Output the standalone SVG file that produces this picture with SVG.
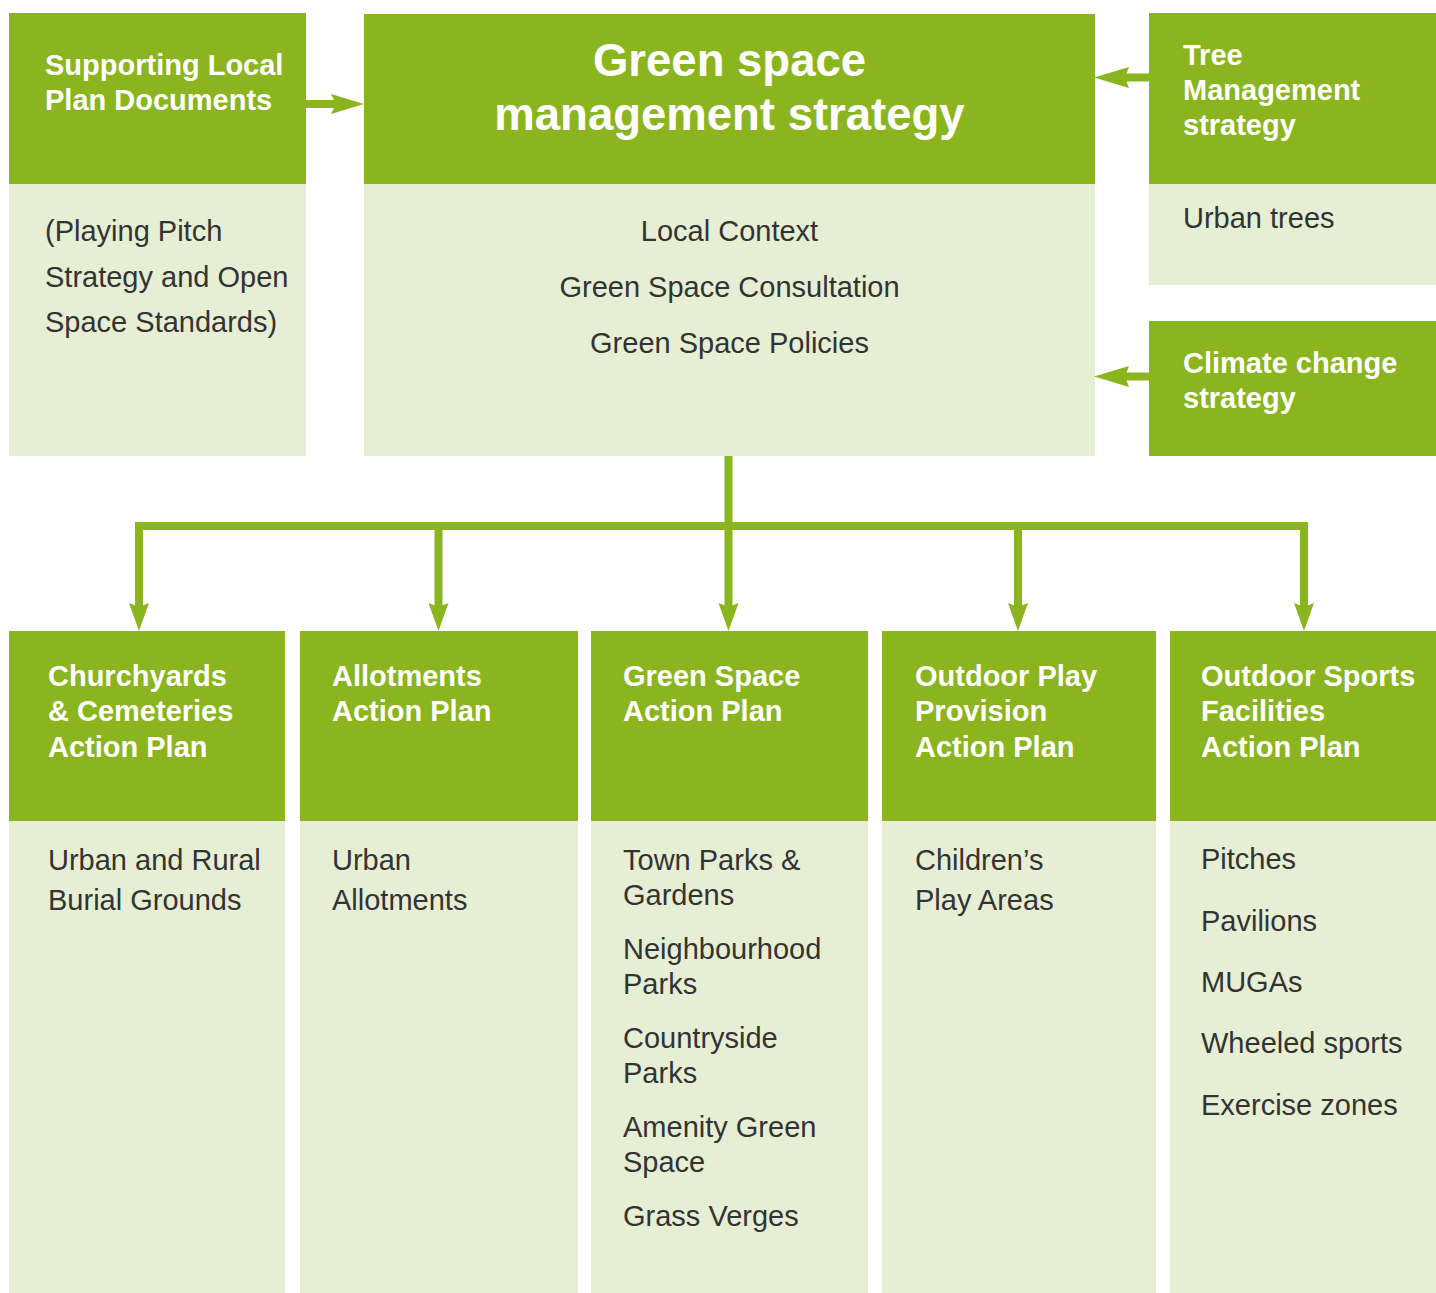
<svg xmlns="http://www.w3.org/2000/svg" width="1436" height="1293" viewBox="0 0 1436 1293">
<style>
.g{fill:#8BB51F}
.l{fill:#E6EFD3}
.h{font-family:"Liberation Sans",Arial,sans-serif;font-weight:bold;font-size:29px;fill:#fff}
.t{font-family:"Liberation Sans",Arial,sans-serif;font-weight:bold;font-size:45.500px;fill:#fff;text-anchor:middle}
.b{font-family:"Liberation Sans",Arial,sans-serif;font-size:29px;fill:#333}
.c{text-anchor:middle}
.ln{stroke:#8BB51F;stroke-width:8;fill:none}
.ah{fill:#8BB51F}
</style>
<rect width="1436" height="1293" fill="#fff"/>
<g id="supporting">
<rect class="g" x="9" y="13" width="297" height="171"/>
<rect class="l" x="9" y="184" width="297" height="272"/>
<text class="h" x="45" y="75">Supporting Local</text>
<text class="h" x="45" y="110">Plan Documents</text>
<text class="b" x="45" y="241">(Playing Pitch</text>
<text class="b" x="45" y="287">Strategy and Open</text>
<text class="b" x="45" y="332">Space Standards)</text>
</g>
<g id="main">
<rect class="g" x="364" y="14" width="731" height="170"/>
<rect class="l" x="364" y="184" width="731" height="272"/>
<text class="t" x="729.500" y="76">Green space</text>
<text class="t" x="729.500" y="130">management strategy</text>
<text class="b c" x="729.500" y="241">Local Context</text>
<text class="b c" x="729.500" y="297">Green Space Consultation</text>
<text class="b c" x="729.500" y="353">Green Space Policies</text>
</g>
<g id="tree">
<rect class="g" x="1149" y="13" width="287" height="171"/>
<rect class="l" x="1149" y="184" width="287" height="101"/>
<text class="h" x="1183" y="65">Tree</text>
<text class="h" x="1183" y="100">Management</text>
<text class="h" x="1183" y="135">strategy</text>
<text class="b" x="1183" y="228">Urban trees</text>
</g>
<g id="climate">
<rect class="g" x="1149" y="321" width="287" height="135"/>
<text class="h" x="1183" y="373">Climate change</text>
<text class="h" x="1183" y="408">strategy</text>
</g>
<g id="churchyards">
<rect class="g" x="9" y="631" width="276" height="190"/>
<rect class="l" x="9" y="821" width="276" height="472"/>
<text class="h" x="48" y="686">Churchyards</text>
<text class="h" x="48" y="721">&amp; Cemeteries</text>
<text class="h" x="48" y="757">Action Plan</text>
<text class="b" x="48" y="870">Urban and Rural</text>
<text class="b" x="48" y="910">Burial Grounds</text>
</g>
<g id="allotments">
<rect class="g" x="300" y="631" width="278" height="190"/>
<rect class="l" x="300" y="821" width="278" height="472"/>
<text class="h" x="332" y="686">Allotments</text>
<text class="h" x="332" y="721">Action Plan</text>
<text class="b" x="332" y="870">Urban</text>
<text class="b" x="332" y="910">Allotments</text>
</g>
<g id="greenspace">
<rect class="g" x="591" y="631" width="277" height="190"/>
<rect class="l" x="591" y="821" width="277" height="472"/>
<text class="h" x="623" y="686">Green Space</text>
<text class="h" x="623" y="721">Action Plan</text>
<text class="b" x="623" y="870">Town Parks &amp;</text>
<text class="b" x="623" y="905">Gardens</text>
<text class="b" x="623" y="959">Neighbourhood</text>
<text class="b" x="623" y="994">Parks</text>
<text class="b" x="623" y="1048">Countryside</text>
<text class="b" x="623" y="1083">Parks</text>
<text class="b" x="623" y="1137">Amenity Green</text>
<text class="b" x="623" y="1172">Space</text>
<text class="b" x="623" y="1226">Grass Verges</text>
</g>
<g id="play">
<rect class="g" x="882" y="631" width="274" height="190"/>
<rect class="l" x="882" y="821" width="274" height="472"/>
<text class="h" x="915" y="686">Outdoor Play</text>
<text class="h" x="915" y="721">Provision</text>
<text class="h" x="915" y="757">Action Plan</text>
<text class="b" x="915" y="870">Children’s</text>
<text class="b" x="915" y="910">Play Areas</text>
</g>
<g id="sports">
<rect class="g" x="1170" y="631" width="266" height="190"/>
<rect class="l" x="1170" y="821" width="266" height="472"/>
<text class="h" x="1201" y="686">Outdoor Sports</text>
<text class="h" x="1201" y="721">Facilities</text>
<text class="h" x="1201" y="757">Action Plan</text>
<text class="b" x="1201" y="869">Pitches</text>
<text class="b" x="1201" y="931">Pavilions</text>
<text class="b" x="1201" y="992">MUGAs</text>
<text class="b" x="1201" y="1053">Wheeled sports</text>
<text class="b" x="1201" y="1115">Exercise zones</text>
</g>
<g id="connectors">
<line class="ln" x1="306" y1="104" x2="336" y2="104"/>
<polygon class="ah" points="331,94 364,104 331,114 336,104"/>
<line class="ln" x1="1149" y1="77.500" x2="1125" y2="77.500"/>
<polygon class="ah" points="1129,67 1094,77.500 1129,88 1125,77.500"/>
<line class="ln" x1="1149" y1="376.500" x2="1125" y2="376.500"/>
<polygon class="ah" points="1129,366 1094,376.500 1129,387 1125,376.500"/>
<line class="ln" x1="728.500" y1="456" x2="728.500" y2="607"/>
<polyline class="ln" points="139,607 139,526 1304,526 1304,607"/>
<line class="ln" x1="438.500" y1="526" x2="438.500" y2="607"/>
<line class="ln" x1="1018" y1="526" x2="1018" y2="607"/>
<polygon class="ah" points="129,603 139,631 149,603 139,607"/>
<polygon class="ah" points="428.500,603 438.500,631 448.500,603 438.500,607"/>
<polygon class="ah" points="718.500,603 728.500,631 738.500,603 728.500,607"/>
<polygon class="ah" points="1008,603 1018,631 1028,603 1018,607"/>
<polygon class="ah" points="1294,603 1304,631 1314,603 1304,607"/>
</g>
</svg>
